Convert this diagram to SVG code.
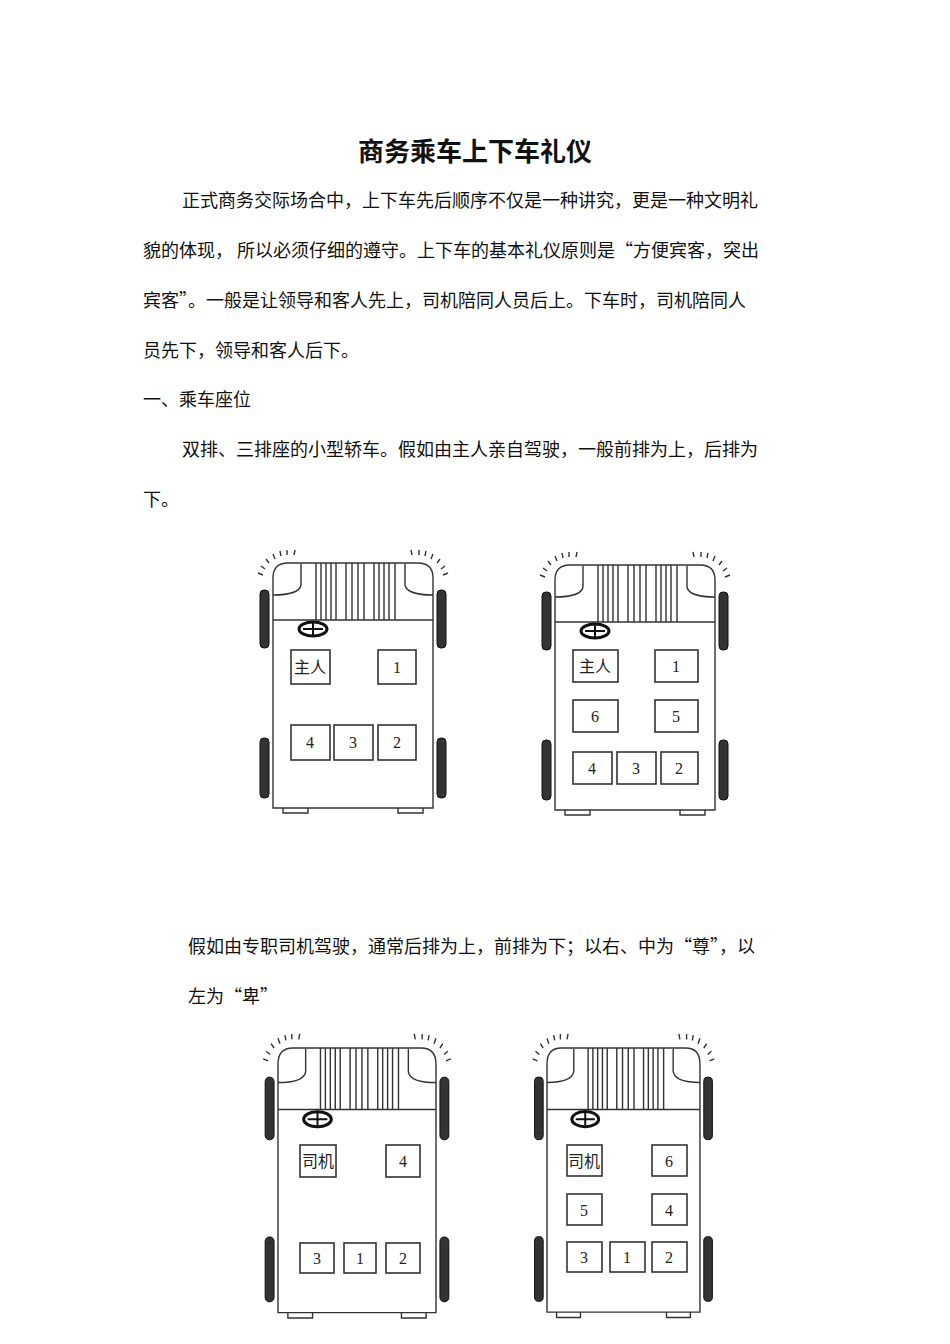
<svg xmlns="http://www.w3.org/2000/svg" xmlns:xlink="http://www.w3.org/1999/xlink" width="950" height="1344" viewBox="0 0 950 1344">
<style>
.t{font-family:"Noto Sans CJK SC","Noto Sans",sans-serif;font-size:18px;fill:#111}
.h{font-family:"Noto Sans CJK SC",sans-serif;font-size:26px;font-weight:bold;fill:#111}
.ln{fill:none;stroke:#333;stroke-width:1.4;vector-effect:non-scaling-stroke}
.wh{fill:#333;stroke:#111;vector-effect:non-scaling-stroke}
.seat{fill:#fff;stroke:#333;stroke-width:1.6}
.sl{font-family:"Liberation Serif","Noto Sans CJK SC",serif;font-size:16px;fill:#222;text-anchor:middle}
</style>
<defs>
<g id="car">
<rect x="0" y="0" width="160" height="245" fill="#fff"/>
<path class="ln" d="M0,245 V15 Q0,0 15,0 H145 Q160,0 160,15 V245 Z"/>
<path class="ln" d="M0,32 Q26,32 28,22 V1 M160,32 Q134,32 132,22 V1"/>
<path class="ln" d="M0,57 H160"/>
<path class="ln" d="M43,0V57M48,0V57M53,0V57M58,0V57M63,0V57M73,0V57M79,0V57M85,0V57M91,0V57M101,0V57M106,0V57M111,0V57M116,0V57M122,0V57"/>
<path class="ln" d="M10,245v5h25v-5M125,245v5h25v-5"/>
<rect class="wh" x="-13" y="27" width="9" height="58" rx="4"/>
<rect class="wh" x="-13" y="175" width="9" height="60" rx="4"/>
<rect class="wh" x="164" y="27" width="9" height="58" rx="4"/>
<rect class="wh" x="164" y="175" width="9" height="60" rx="4"/>
<path class="ln" d="M-15,10l5,2M-12,3l4,3M-7,-4l3,4M0,-9l2,5M7,-12l1,5M14,-13l0,5M22,-13l-1,5M175,10l-5,2M172,3l-4,3M167,-4l-3,4M160,-9l-2,5M153,-12l-1,5M146,-13l0,5M138,-13l1,5"/>
<ellipse cx="40" cy="66" rx="14" ry="7" fill="#fff" stroke="#111" stroke-width="3" vector-effect="non-scaling-stroke"/>
<path d="M30,66h20M40,60v12" stroke="#111" stroke-width="2" vector-effect="non-scaling-stroke"/>
</g>
</defs>
<text class="h" x="475" y="161" text-anchor="middle">商务乘车上下车礼仪</text>
<text class="t" x="182" y="207">正式商务交际场合中，上下车先后顺序不仅是一种讲究，更是一种文明礼</text>
<text class="t" x="143" y="257">貌的体现， 所以必须仔细的遵守。上下车的基本礼仪原则是“方便宾客，突出</text>
<text class="t" x="143" y="307">宾客”。一般是让领导和客人先上，司机陪同人员后上。下车时，司机陪同人</text>
<text class="t" x="143" y="357">员先下，领导和客人后下。</text>
<text class="t" x="143" y="406">一、乘车座位</text>
<text class="t" x="182" y="456">双排、三排座的小型轿车。假如由主人亲自驾驶，一般前排为上，后排为</text>
<text class="t" x="143" y="506">下。</text>
<text class="t" x="188" y="953">假如由专职司机驾驶，通常后排为上，前排为下；以右、中为“尊”，以</text>
<text class="t" x="188" y="1003">左为“卑”</text>
<g id="car1">
<use xlink:href="#car" transform="translate(273,563)"/>
<rect class="seat" x="291" y="650" width="39" height="34"/><text class="sl" x="310" y="673">主人</text>
<rect class="seat" x="378" y="650" width="38" height="34"/><text class="sl" x="397" y="673">1</text>
<rect class="seat" x="291" y="725" width="39" height="35"/><text class="sl" x="310" y="748">4</text>
<rect class="seat" x="334" y="725" width="39" height="35"/><text class="sl" x="353" y="748">3</text>
<rect class="seat" x="378" y="725" width="38" height="35"/><text class="sl" x="397" y="748">2</text>
</g>
<g id="car2">
<use xlink:href="#car" transform="translate(555,565)"/>
<rect class="seat" x="573" y="650" width="45" height="32"/><text class="sl" x="595" y="672">主人</text>
<rect class="seat" x="655" y="650" width="43" height="32"/><text class="sl" x="676" y="672">1</text>
<rect class="seat" x="573" y="700" width="45" height="32"/><text class="sl" x="595" y="722">6</text>
<rect class="seat" x="655" y="700" width="43" height="32"/><text class="sl" x="676" y="722">5</text>
<rect class="seat" x="573" y="752" width="39" height="32"/><text class="sl" x="592" y="774">4</text>
<rect class="seat" x="617" y="752" width="39" height="32"/><text class="sl" x="636" y="774">3</text>
<rect class="seat" x="661" y="752" width="37" height="32"/><text class="sl" x="679" y="774">2</text>
</g>
<g id="car3">
<use xlink:href="#car" transform="translate(278,1048) scale(0.9875,1.08)"/>
<rect class="seat" x="300" y="1145" width="36" height="32"/><text class="sl" x="318" y="1167">司机</text>
<rect class="seat" x="386" y="1145" width="34" height="32"/><text class="sl" x="403" y="1167">4</text>
<rect class="seat" x="300" y="1243" width="34" height="30"/><text class="sl" x="317" y="1264">3</text>
<rect class="seat" x="344" y="1243" width="32" height="30"/><text class="sl" x="360" y="1264">1</text>
<rect class="seat" x="386" y="1243" width="34" height="30"/><text class="sl" x="403" y="1264">2</text>
</g>
<g id="car4">
<use xlink:href="#car" transform="translate(547,1048) scale(0.956,1.078)"/>
<rect class="seat" x="567" y="1145" width="35" height="31"/><text class="sl" x="584" y="1167">司机</text>
<rect class="seat" x="652" y="1145" width="35" height="31"/><text class="sl" x="669" y="1167">6</text>
<rect class="seat" x="567" y="1194" width="35" height="31"/><text class="sl" x="584" y="1216">5</text>
<rect class="seat" x="652" y="1194" width="35" height="31"/><text class="sl" x="669" y="1216">4</text>
<rect class="seat" x="567" y="1242" width="35" height="30"/><text class="sl" x="584" y="1263">3</text>
<rect class="seat" x="610" y="1242" width="35" height="30"/><text class="sl" x="627" y="1263">1</text>
<rect class="seat" x="652" y="1242" width="35" height="30"/><text class="sl" x="669" y="1263">2</text>
</g>
</svg>
